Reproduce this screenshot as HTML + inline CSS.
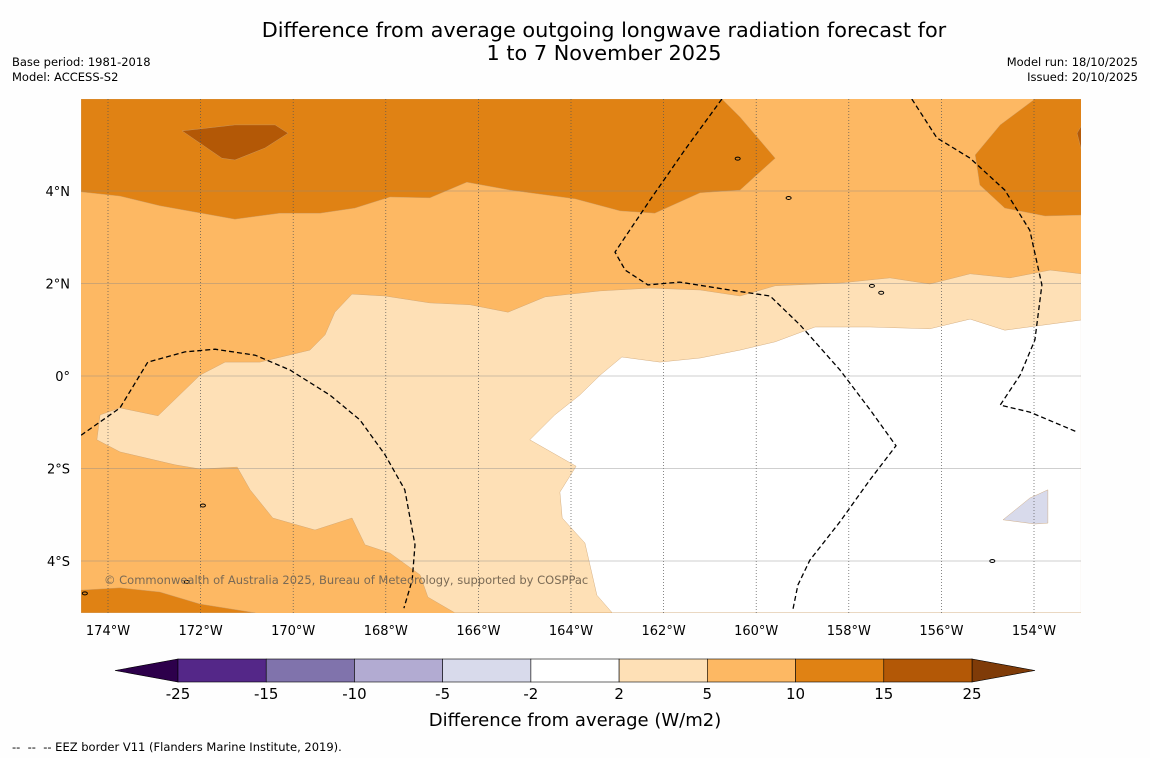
<!DOCTYPE html>
<html><head><meta charset="utf-8">
<style>
html,body{margin:0;padding:0;background:#fefefe;}
body{width:1150px;height:758px;position:relative;overflow:hidden;font-family:"DejaVu Sans",sans-serif;}
.t{position:absolute;color:#000;white-space:nowrap;}
svg text{font-family:"DejaVu Sans",sans-serif;}
</style></head>
<body>
<div class="t" style="left:0;width:1208px;top:19px;text-align:center;font-size:20.8px;line-height:23px;">Difference from average outgoing longwave radiation forecast for<br>1 to 7 November 2025</div>
<div class="t" style="left:12px;top:55px;font-size:11.5px;line-height:15px;">Base period: 1981-2018<br>Model: ACCESS-S2</div>
<div class="t" style="right:12px;top:55px;font-size:11.5px;line-height:15px;text-align:right;">Model run: 18/10/2025<br>Issued: 20/10/2025</div>
<div class="t" style="left:12px;top:740px;font-size:11.5px;">--&nbsp; --&nbsp; -- EEZ border V11 (Flanders Marine Institute, 2019).</div>
<svg id="chart" width="1150" height="758" style="position:absolute;left:0;top:0"></svg>
<script>
const lonTicks=[-174,-172,-170,-168,-166,-164,-162,-160,-158,-156,-154];
const lonLabels=["174°W","172°W","170°W","168°W","166°W","164°W","162°W","160°W","158°W","156°W","154°W"];
const latTicks=[4,2,0,-2,-4];
const latLabels=["4°N","2°N","0°","2°S","4°S"];
const cbLevels=[-25,-15,-10,-5,-2,2,5,10,15,25];
const cbLabels=["-25","-15","-10","-5","-2","2","5","10","15","25"];
const cbColors=["#542788","#8073ac","#b2abd2","#d8daeb","#ffffff","#fee0b6","#fdb863","#e08214","#b35806"];
const baseLevelColor="#fdb863";
const contourPale=[[-174.24,-1.38],[-174.17,-0.84],[-173.74,-0.69],[-172.92,-0.86],[-172.01,0.02],[-171.47,0.30],[-170.72,0.30],[-169.64,0.56],[-169.31,0.89],[-169.10,1.38],[-168.73,1.77],[-168.02,1.73],[-167.05,1.58],[-166.18,1.54],[-165.36,1.38],[-164.56,1.71],[-163.37,1.84],[-162.29,1.90],[-161.21,1.86],[-160.35,1.73],[-159.59,1.95],[-158.19,2.01],[-157.11,2.12],[-156.25,1.99],[-155.38,2.21],[-154.52,2.12],[-153.65,2.29],[-152.98,2.21],[-152.98,-5.12],[-166.51,-5.12],[-167.09,-4.78],[-167.26,-4.30],[-167.91,-3.83],[-168.45,-3.65],[-168.73,-3.07],[-169.53,-3.33],[-170.44,-3.07],[-170.93,-2.46],[-171.21,-1.97],[-172.01,-2.01],[-172.55,-1.92],[-173.74,-1.64]];
const contourWhite=[[-163.11,-5.12],[-163.44,-4.74],[-163.70,-3.61],[-164.19,-3.07],[-164.24,-2.51],[-163.89,-1.95],[-164.89,-1.38],[-164.35,-0.84],[-163.81,-0.41],[-163.37,0.02],[-162.90,0.41],[-162.08,0.30],[-161.21,0.39],[-160.35,0.56],[-159.59,0.74],[-158.73,1.06],[-157.54,1.06],[-156.25,1.02],[-155.38,1.23],[-154.63,0.99],[-152.98,1.21],[-152.98,-5.12]];
const contourDarkTop=[[-174.58,3.98],[-173.74,3.89],[-172.88,3.68],[-171.26,3.39],[-170.29,3.52],[-169.42,3.52],[-168.67,3.63],[-167.91,3.87],[-167.05,3.85],[-166.25,4.19],[-165.32,4.02],[-163.91,3.83],[-162.94,3.57],[-162.19,3.52],[-161.21,3.96],[-160.35,4.02],[-159.59,4.71],[-160.35,5.60],[-160.74,5.99],[-174.58,5.99]];
const contourDarkRight=[[-153.98,5.99],[-154.73,5.43],[-155.27,4.78],[-155.17,4.13],[-154.63,3.63],[-153.76,3.46],[-152.98,3.48],[-152.98,5.99]];
const contourDarkBottom=[[-174.58,-4.63],[-173.74,-4.58],[-172.88,-4.67],[-172.01,-4.93],[-170.82,-5.12],[-174.58,-5.12]];
const contourDarkest=[[-172.40,5.30],[-171.26,5.43],[-170.39,5.43],[-170.11,5.25],[-170.61,4.93],[-171.26,4.67],[-171.54,4.71]];
const contourDarkestRight=[[-153.07,5.25],[-152.98,5.40],[-152.98,4.90]];
const contourLavender=[[-154.67,-3.11],[-154.09,-2.64],[-153.70,-2.46],[-153.70,-3.18],[-153.98,-3.20]];
const eez1=[[-174.58,-1.28],[-173.74,-0.69],[-173.14,0.30],[-172.34,0.52],[-171.69,0.58],[-170.82,0.45],[-170.07,0.13],[-169.21,-0.41],[-168.56,-0.95],[-168.02,-1.70],[-167.59,-2.46],[-167.37,-3.65],[-167.43,-4.41],[-167.61,-5.02]];
const eez2=[[-160.74,5.99],[-161.54,4.89],[-162.29,3.81],[-163.05,2.68],[-162.83,2.29],[-162.34,1.97],[-161.65,2.03],[-160.57,1.86],[-159.70,1.73],[-159.05,1.10],[-158.19,0.13],[-157.54,-0.73],[-156.98,-1.51],[-157.54,-2.24],[-158.19,-3.15],[-158.84,-3.98],[-159.10,-4.52],[-159.21,-5.06]];
const eez3=[[-156.64,5.99],[-156.10,5.15],[-155.38,4.71],[-154.63,4.02],[-154.09,3.15],[-153.83,1.97],[-153.98,0.78],[-154.30,0.02],[-154.73,-0.63],[-154.09,-0.78],[-153.07,-1.21]];

const NS="http://www.w3.org/2000/svg";
const svg=document.getElementById('chart');
const X=lon=>108+(lon+174)*46.3;
const Y=lat=>376-lat*46.25;
const MX0=81,MX1=1081,MY0=99,MY1=613;
function mk(tag,attrs,parent){const e=document.createElementNS(NS,tag);for(const k in attrs)e.setAttribute(k,attrs[k]);(parent||svg).appendChild(e);return e;}
function pts(arr){return arr.map(p=>X(p[0]).toFixed(1)+","+Y(p[1]).toFixed(1)).join(" ");}

const defs=mk('defs',{});
const cp=mk('clipPath',{id:'mapclip'},defs);
mk('rect',{x:MX0,y:MY0,width:MX1-MX0,height:MY1-MY0},cp);
const g=mk('g',{'clip-path':'url(#mapclip)'});



const bg=mk('rect',{x:MX0,y:MY0,width:MX1-MX0,height:MY1-MY0,fill:baseLevelColor},g);



const fills=[[contourPale,cbColors[5],'anomaly-2-5-region'],[contourWhite,cbColors[4],'anomaly-neutral-region'],[contourDarkTop,cbColors[7],'anomaly-10-15-north-region'],[contourDarkRight,cbColors[7],'anomaly-10-15-northeast-region'],[contourDarkBottom,cbColors[7],'anomaly-10-15-southwest-region'],[contourDarkest,cbColors[8],'anomaly-15-25-region'],[contourDarkestRight,cbColors[8],'anomaly-15-25-edge-region'],[contourLavender,cbColors[3],'anomaly-negative-region']];
fills.forEach(f=>{
  const p=mk('polygon',{points:pts(f[0]),fill:f[1],stroke:'#c9a070','stroke-width':0.4},g);
  
  
});

lonTicks.forEach((lon,i)=>{
  const l=mk('line',{x1:X(lon),x2:X(lon),y1:MY0,y2:MY1,stroke:'#555','stroke-width':0.7,'stroke-dasharray':'1,2'},g);
  
  
});
latTicks.forEach((lat,i)=>{
  const l=mk('line',{x1:MX0,x2:MX1,y1:Y(lat),y2:Y(lat),stroke:'#888','stroke-width':0.6,'stroke-opacity':0.8},g);
  
  
});

[eez1,eez2,eez3].forEach(e=>{
  const l=mk('polyline',{points:pts(e),fill:'none',stroke:'#000','stroke-width':1.3,'stroke-dasharray':'5,3'},g);
  
  
});

const islands=[[-171.95,-2.8],[-172.3,-4.45],[-157.5,1.95],[-157.3,1.8],[-159.3,3.85],[-160.4,4.7],[-154.9,-4.0],[-174.5,-4.7]];
islands.forEach(p=>{
  const e=mk('ellipse',{cx:X(p[0]),cy:Y(p[1]),rx:2.5,ry:1.5,fill:'none',stroke:'#000','stroke-width':1},g);
  
  
});

const cr=mk('text',{x:104,y:584,'font-size':11.5,fill:'#7a6a55'},g);
cr.textContent='© Commonwealth of Australia 2025, Bureau of Meteorology, supported by COSPPac';



lonTicks.forEach((lon,i)=>{
  const t=mk('text',{x:X(lon),y:635,'font-size':13,'text-anchor':'middle',fill:'#000'});
  t.textContent=lonLabels[i];
  
  
});
latTicks.forEach((lat,i)=>{
  const t=mk('text',{x:70,y:Y(lat)+5,'font-size':13,'text-anchor':'end',fill:'#000'});
  t.textContent=latLabels[i];
  
  
});

const CB0=178,CB1=972,CBY=659,CBH=23;
const CX=i=>CB0+(CB1-CB0)*i/(cbLevels.length-1);
const lt=mk('polygon',{points:`${CB0},${CBY} ${CB0},${CBY+CBH} 115,${CBY+CBH/2}`,fill:'#2d004b',stroke:'#000','stroke-width':0.6});


const rt=mk('polygon',{points:`${CB1},${CBY} ${CB1},${CBY+CBH} 1035,${CBY+CBH/2}`,fill:'#7f3b08',stroke:'#000','stroke-width':0.6});


cbColors.forEach((c,i)=>{
  const r=mk('rect',{x:CX(i),y:CBY,width:CX(i+1)-CX(i),height:CBH,fill:c,stroke:'#000','stroke-width':0.6});
  
  
});
cbLevels.forEach((v,i)=>{
  const t=mk('text',{x:CX(i),y:699,'font-size':15,'text-anchor':'middle',fill:'#000'});
  t.textContent=cbLabels[i];
  
  
});
const ct=mk('text',{x:575,y:726,'font-size':18,'text-anchor':'middle',fill:'#000'});
ct.textContent='Difference from average (W/m2)';


</script>
</body></html>
